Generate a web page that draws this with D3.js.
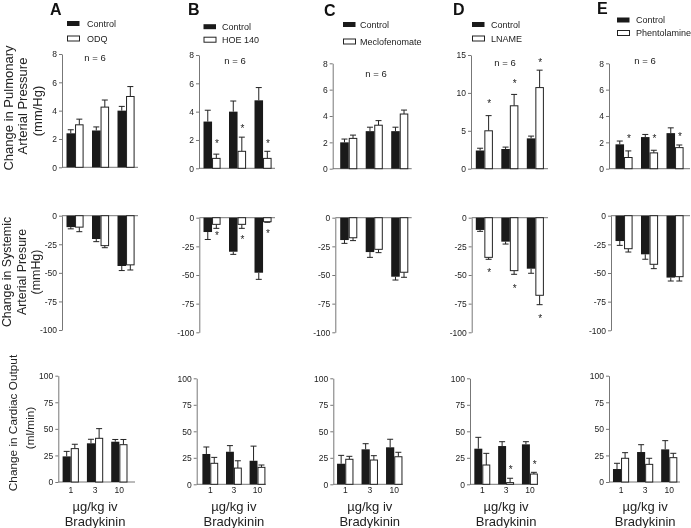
<!DOCTYPE html>
<html><head><meta charset="utf-8">
<script src="https://cdn.jsdelivr.net/npm/d3@7"></script>
<style>
body{margin:0;background:#fff}
svg{will-change:transform}
text{font-family:"Liberation Sans",Arial,sans-serif;fill:#222}
</style>
</head><body>
<svg id="chart" width="691" height="528"></svg>
<script>
// ---------- DATA ----------
const doses = ["1", "3", "10"];
const panelLetters = ["A", "B", "C", "D", "E"];
const controlLabel = "Control";
const treatments = ["ODQ", "HOE 140", "Meclofenomate", "LNAME", "Phentolamine"];
const nLabel = "n = 6";

const pulmTicks = [[0,2,4,6,8],[0,2,4,6,8],[0,2,4,6,8],[0,5,10,15],[0,2,4,6,8]];
const sysTicks = [0, -25, -50, -75, -100];
const coTicks = [0, 25, 50, 75, 100];

// Pulmonary arterial pressure (mm/Hg)
const pulmControl    = [[2.4,2.6,4.0],[3.3,4.0,4.8],[2.0,2.85,2.85],[2.4,2.6,4.0],[1.85,2.4,2.7]];
const pulmControlSem = [[0.25,0.25,0.3],[0.8,0.75,0.9],[0.25,0.3,0.3],[0.3,0.25,0.3],[0.25,0.2,0.4]];
const pulmTreat      = [[3.0,4.25,5.0],[0.7,1.2,0.7],[2.3,3.3,4.15],[5.0,8.3,10.7],[0.85,1.2,1.6]];
const pulmTreatSem   = [[0.4,0.5,0.7],[0.3,1.0,0.5],[0.25,0.35,0.3],[2.0,1.5,2.3],[0.5,0.2,0.2]];
const pulmStar       = [[null,null,null],[1.93,2.94,1.88],[null,null,null],[8.93,11.5,14.25],[2.5,2.5,2.6]];

// Systemic arterial pressure (mmHg)
const sysControl    = [[-10,-20.4,-44],[-12.5,-29.7,-48],[-19.5,-30,-51.5],[-10.7,-20.9,-44.5],[-22.1,-33.7,-54]];
const sysControlSem = [[1.5,2.3,4],[6.5,2.3,5.8],[2.9,4.6,2.9],[1.2,2.1,4],[3.8,4.3,3]];
const sysTreat      = [[-10,-26.2,-43],[-5.8,-5.8,-3.5],[-17.5,-27.6,-47.6],[-34.6,-46.2,-67.7],[-28.8,-42.4,-53.2]];
const sysTreatSem   = [[4,1.8,4.5],[3.5,3.5,0.5],[2.5,2.9,4.4],[1.7,3.2,8.2],[2.9,3.8,3.8]];
const sysStar       = [[null,null,null],[-13.6,-16.6,-12.2],[null,null,null],[-45.6,-59.6,-85.9],[null,null,null]];

// Cardiac output (ml/min)
const coControl    = [[24.1,36.4,37.9],[28.6,30.7,22.2],[19.4,33,34.9],[33.6,36.1,37.7],[12.2,28.2,30.7]];
const coControlSem = [[4.7,3.8,2.1],[6.6,5.8,13.8],[7.9,5.3,7.6],[10.7,4.1,2.5],[5.4,6.9,8.2]];
const coTreat      = [[31.4,41.1,35.1],[19.8,15.3,16.0],[23.6,22.9,26],[18.2,1.6,9.7],[22.3,16.6,22.9]];
const coTreatSem   = [[4.1,9.1,4.9],[5.6,6.9,2.2],[2.8,4.1,4.2],[11,4.1,1.6],[5.3,5.7,4.1]];
const coStar       = [[null,null,null],[null,null,null],[null,null,null],[null,16.6,21.3],[null,null,null]];

// ---------- LAYOUT ----------
const rowLayout = {
  pulm: [
    {ax:62,    axEnd:138,   band:62.3,  step:25.5, yTop:54,   yBot:167.3},
    {ax:199,   axEnd:275,   band:199.3, step:25.5, yTop:55,   yBot:168.3},
    {ax:332.7, axEnd:411.7, band:336,   step:25.5, yTop:63.3, yBot:168.7},
    {ax:471,   axEnd:548,   band:471.6, step:25.5, yTop:55,   yBot:168.7},
    {ax:609,   axEnd:690,   band:611.3, step:25.5, yTop:63.3, yBot:168.7}
  ],
  sys: [
    {ax:62,    axEnd:138,   band:62.3,  step:25.5, yTop:215.7, yBot:330},
    {ax:199.3, axEnd:275,   band:199.3, step:25.5, yTop:217.7, yBot:332.3},
    {ax:335.3, axEnd:411.7, band:336,   step:25.5, yTop:217.7, yBot:332.3},
    {ax:471.7, axEnd:548,   band:471.6, step:25.5, yTop:217.7, yBot:332.3},
    {ax:611,   axEnd:690,   band:611.3, step:25.5, yTop:215.7, yBot:330.3}
  ],
  co: [
    {ax:58.3,  axEnd:135,   band:58.6,  step:24.3, yTop:375.7, yBot:482},
    {ax:196.7, axEnd:266,   band:198.5, step:23.6, yTop:378.3, yBot:484.3},
    {ax:333.3, axEnd:403,   band:333,   step:24.5, yTop:378.3, yBot:484.3},
    {ax:470,   axEnd:538,   band:470.4, step:23.8, yTop:378.3, yBot:484.3},
    {ax:609,   axEnd:680,   band:609,   step:24.1, yTop:375.7, yBot:482}
  ]
};
const letterPos = [[50,15],[188,15],[324,16],[453,15],[597,13.5]];
const legendPos = [ // swatch x, y1 center, y2 center, text x
  [67,23.5,38.5,87],[203.5,26.7,39.7,222],[343,24.5,41.5,360],[472,24.5,38.5,491],[617,20,33,636]
];
const nPos = [[95,58],[235,61],[376,73.5],[505,62.5],[645,60.5]];

const svg = d3.select("#chart");
const AX = "#777", INK = "#222", BAR = "#1a1a1a";

function drawPanel(i, kind, ctrl, ctrlSem, treat, treatSem, stars, ticks, domain) {
  const L = rowLayout[kind][i];
  const g = svg.append("g");
  const x = d3.scaleBand().domain(doses).range([L.band, L.band + 3*L.step]);
  const y = d3.scaleLinear().domain(domain).range([L.yBot, L.yTop]);
  const bw = L.step * 0.335;
  const zeroY = y(0);

  const yAxis = d3.axisLeft(y).tickValues(ticks).tickFormat(d => String(d))
    .tickSize(3).tickPadding(2).tickSizeOuter(0);
  const ga = g.append("g").attr("transform", `translate(${L.ax},0)`).call(yAxis);
  ga.select(".domain").attr("stroke", AX);
  ga.selectAll(".tick line").attr("stroke", AX);
  ga.selectAll(".tick text").style("font-size", "8.5px").style("font-family", "Liberation Sans, Arial, sans-serif").attr("fill", "#333");
  g.append("line").attr("x1", L.ax).attr("x2", L.axEnd).attr("y1", zeroY).attr("y2", zeroY).attr("stroke", AX);

  const series = [
    {vals: ctrl, sem: ctrlSem, off: -1, fill: BAR},
    {vals: treat, sem: treatSem, off: 0, fill: "#fff"}
  ];
  series.forEach(s => {
    doses.forEach((d, k) => {
      const c = x(d) + x.bandwidth()/2;
      const x0 = c + s.off*bw;
      const v = s.vals[k];
      const e = v >= 0 ? v + s.sem[k] : v - s.sem[k];
      const xc = x0 + bw/2;
      g.append("line").attr("x1", xc).attr("x2", xc).attr("y1", y(v)).attr("y2", y(e)).attr("stroke", INK).attr("stroke-width", 1);
      g.append("line").attr("x1", xc-3).attr("x2", xc+3).attr("y1", y(e)).attr("y2", y(e)).attr("stroke", INK).attr("stroke-width", 1);
      g.append("rect")
        .attr("x", x0 + (s.off === 0 ? 0.5 : 0)).attr("width", bw - (s.off === 0 ? 1 : 0))
        .attr("y", Math.min(y(v), zeroY)).attr("height", Math.abs(y(v) - zeroY))
        .attr("fill", s.fill).attr("stroke", s.off === 0 ? INK : "none").attr("stroke-width", 1);
    });
  });
  doses.forEach((d, k) => {
    if (stars[k] == null) return;
    const c = x(d) + x.bandwidth()/2 + bw/2 + 0.7;
    g.append("text").attr("x", c).attr("y", y(stars[k]) + 5.8)
      .attr("text-anchor", "middle").style("font-size", "10px").style("fill", "#222").text("*");
  });
  return {x, g};
}

for (let i = 0; i < 5; i++) {
  drawPanel(i, "pulm", pulmControl[i], pulmControlSem[i], pulmTreat[i], pulmTreatSem[i], pulmStar[i],
    pulmTicks[i], [0, pulmTicks[i][pulmTicks[i].length-1]]);
  drawPanel(i, "sys", sysControl[i], sysControlSem[i], sysTreat[i], sysTreatSem[i], sysStar[i], sysTicks, [-100, 0]);
  const q = drawPanel(i, "co", coControl[i], coControlSem[i], coTreat[i], coTreatSem[i], coStar[i], coTicks, [0, 100]);

  doses.forEach(d => {
    q.g.append("text").attr("x", q.x(d) + q.x.bandwidth()/2).attr("y", 493)
      .attr("text-anchor", "middle").style("font-size", "8.5px").attr("fill", "#333").text(d);
  });
  const mid = q.x("3") + q.x.bandwidth()/2;
  q.g.append("text").attr("x", mid).attr("y", 511.2).attr("text-anchor", "middle").style("font-size", "13px").text("\u00b5g/kg iv");
  q.g.append("text").attr("x", mid).attr("y", 526.4).attr("text-anchor", "middle").style("font-size", "13px").text("Bradykinin");

  svg.append("text").attr("x", letterPos[i][0]).attr("y", letterPos[i][1])
    .style("font-size", "16px").style("font-weight", "bold").style("fill", "#111").text(panelLetters[i]);
  const [lx, ly1, ly2, tx] = legendPos[i];
  svg.append("rect").attr("x", lx).attr("y", ly1 - 2.5).attr("width", 12.5).attr("height", 5).attr("fill", BAR);
  svg.append("rect").attr("x", lx + 0.5).attr("y", ly2 - 2.5).attr("width", 12).attr("height", 5).attr("fill", "#fff").attr("stroke", INK);
  svg.append("text").attr("x", tx).attr("y", ly1).attr("dy", "0.35em").style("font-size", "9px").text(controlLabel);
  svg.append("text").attr("x", tx).attr("y", ly2).attr("dy", "0.35em").style("font-size", "9px").text(treatments[i]);
  svg.append("text").attr("x", nPos[i][0]).attr("y", nPos[i][1]).attr("dy", "0.35em")
    .attr("text-anchor", "middle").style("font-size", "9.5px").text(nLabel);
}

const yTitles = [
  {lines: ["Change in Pulmonary", "Arterial Pressure", "(mm/Hg)"], xs: [8, 22.5, 37], cys: [108, 106, 111], fs: 13},
  {lines: ["Change in Systemic", "Arterial Presure", "(mmHg)"], xs: [7, 21.5, 36], cys: [272, 272, 272], fs: 12.4},
  {lines: ["Change in Cardiac Output", "(ml/min)"], xs: [12.5, 30], cys: [423, 428], fs: 11.8}
];
yTitles.forEach(t => {
  t.lines.forEach((s, j) => {
    svg.append("text").attr("transform", `translate(${t.xs[j]},${t.cys[j]}) rotate(-90)`)
      .attr("text-anchor", "middle").attr("dy", "0.35em").style("font-size", t.fs + "px").text(s);
  });
});
</script>
</body></html>
